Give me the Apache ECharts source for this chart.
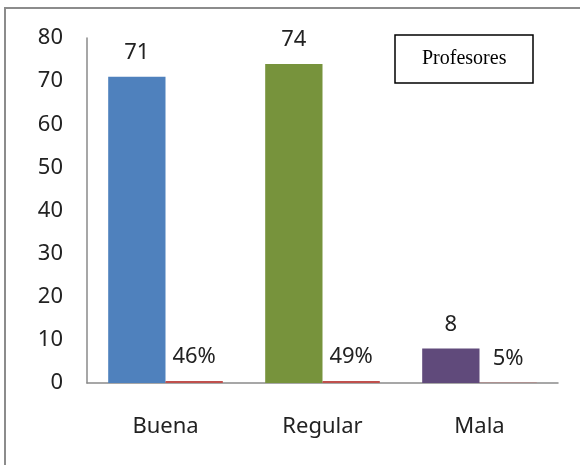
<!DOCTYPE html>
<html>
<head>
<meta charset="utf-8">
<script src="https://cdn.jsdelivr.net/npm/echarts@6/dist/echarts.min.js"></script>
<style>
  html, body { margin: 0; padding: 0; background: #fff; }
  #chart { width: 580px; height: 465px; }
</style>
</head>
<body>
<div id="chart"></div>
<script>
// categorias y valores
const categories = ['Buena', 'Regular', 'Mala']
const counts = [71, 74, 8]
const shares = [0.46, 0.49, 0.05]
const barColors = ['#4F81BD', '#77933C', '#604A7B']
const yTicks = { min: 0, max: 80, interval: 10 }

const chart = echarts.init(document.getElementById('chart'))
const font = 'Noto Sans'

const option = {
  animation: false,
  graphic: [{
    type: 'rect',
    shape: { x: 5, y: 8, width: 620, height: 520 },
    style: { fill: 'none', stroke: '#8c8c8c', lineWidth: 2 },
    silent: true
  }],
  title: {
    text: 'Profesores',
    left: 395,
    top: 35,
    padding: [14, 27, 14, 27],
    borderColor: '#000',
    borderWidth: 1.5,
    textStyle: { fontFamily: 'Liberation Serif', fontSize: 20, fontWeight: 'normal', color: '#000' }
  },
  grid: { left: 87, right: 22, top: 38, bottom: 82 },
  xAxis: {
    type: 'category',
    data: categories,
    axisLine: { lineStyle: { color: '#8a8a8a', width: 1.5 } },
    axisTick: { show: false },
    axisLabel: { margin: 33, fontFamily: font, fontSize: 22, color: '#222' }
  },
  yAxis: {
    type: 'value',
    min: yTicks.min,
    max: yTicks.max,
    interval: yTicks.interval,
    splitLine: { show: false },
    axisLine: { show: true, lineStyle: { color: '#8a8a8a', width: 1.5 } },
    axisTick: { show: false },
    axisLabel: { margin: 24, fontFamily: font, fontSize: 22, color: '#222' }
  },
  series: [
    {
      type: 'bar',
      data: counts.map((v, i) => ({ value: v, itemStyle: { color: barColors[i] } })),
      barGap: '0%',
      barCategoryGap: '27%',
      label: {
        show: true,
        position: 'top',
        distance: 13,
        fontFamily: font,
        fontSize: 22,
        color: '#222'
      }
    },
    {
      type: 'bar',
      data: shares,
      itemStyle: { color: '#C0504D' },
      label: {
        show: true,
        position: 'top',
        distance: 13,
        fontFamily: font,
        fontSize: 22,
        color: '#222',
        formatter: p => Math.round(p.value * 100) + '%'
      }
    }
  ]
}
chart.setOption(option)
</script>
</body>
</html>
